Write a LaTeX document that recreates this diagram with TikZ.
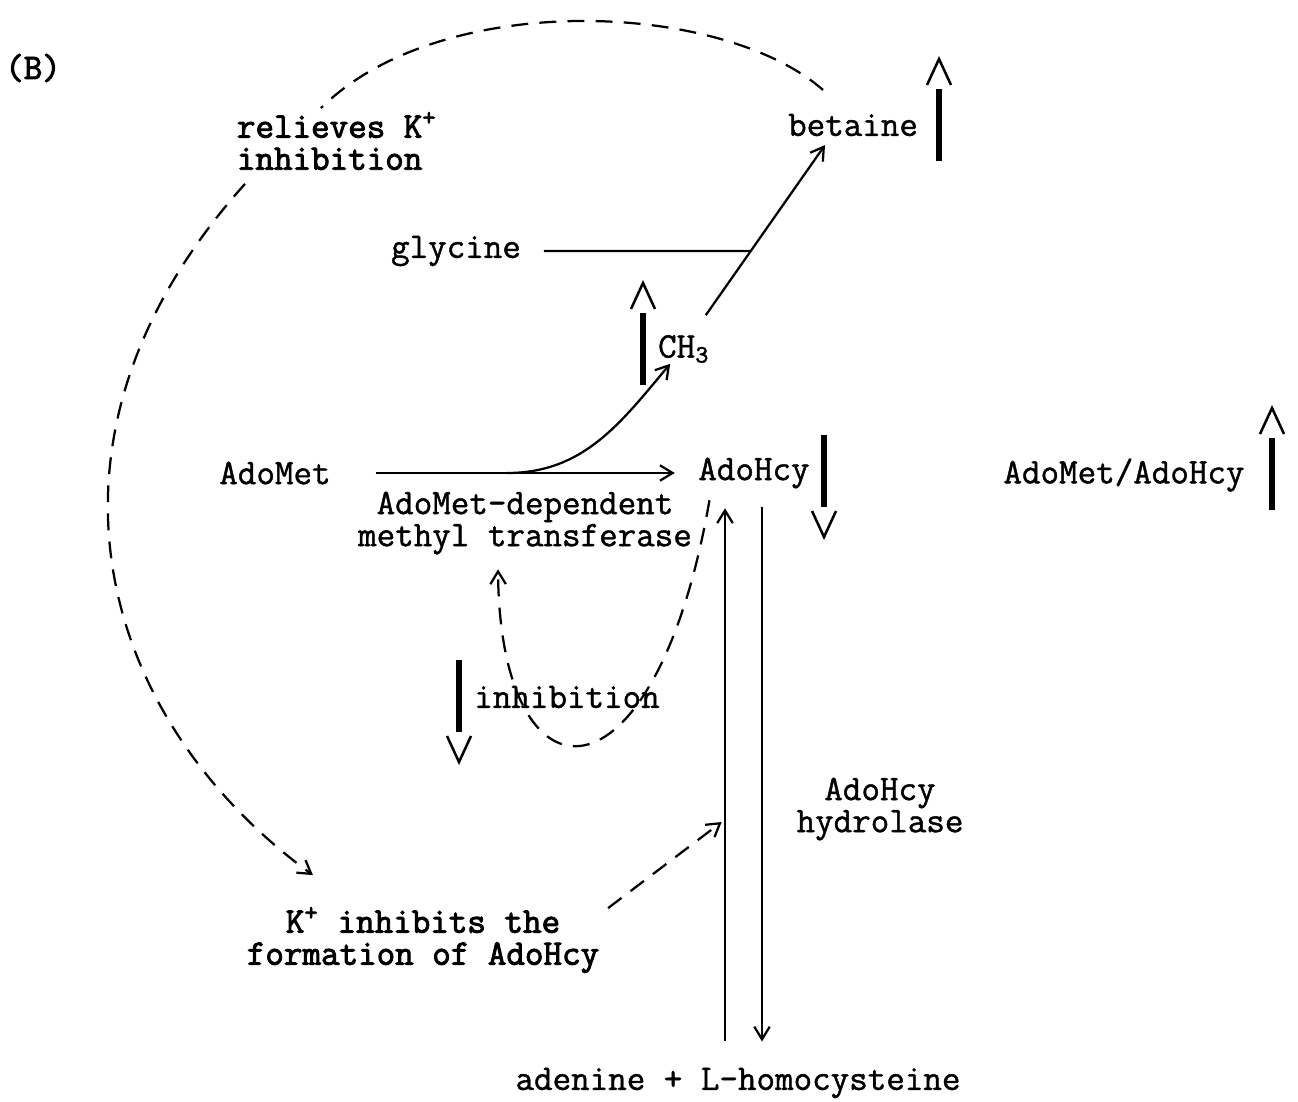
\documentclass[tikz,border=0pt]{standalone}
\usepackage{fontspec}
\usepackage{tikz}
\usetikzlibrary{arrows.meta, positioning, calc, intersections}
\newfontfamily\scanfont{Latin Modern Mono}[FakeBold=1.2]
\newfontfamily\scanheavy{Latin Modern Mono}[FakeBold=2.6]
\newcommand{\figfont}{\scanfont\fontsize{12.8}{11.4}\selectfont}

\begin{document}
\begin{tikzpicture}[x=0.0125cm, y=-0.0125cm, line width=0.8pt, font=\figfont,
  every node/.style={inner sep=1pt},
  heavy/.style={font=\scanheavy\fontsize{12.8}{11.4}\selectfont},
  flow/.style={-{Straight Barb[length=4.5pt,width=5.5pt]}},
  dashline/.style={dash pattern=on 6pt off 4pt},
  hint/.style={dashline, -{Straight Barb[length=4.5pt,width=5.5pt]}},
  chev/.style={line width=0.9pt},
  shaft/.style={line width=2pt},
  rise/.pic={\draw[chev] (-12,26) -- (0,0) -- (12,26); \draw[shaft] (0,30) -- (0,102);},
  fall/.pic={\draw[chev] (-12,-26) -- (0,0) -- (12,-26); \draw[shaft] (0,-30) -- (0,-102);}]
  \useasboundingbox (0,0) rectangle (1298,1102);

  \node[heavy] (panel) at (33,68) {(B)};

  % metabolites
  \node (betaine) at (853,125) {betaine};
  \pic at (939,59) {rise};
  \node (glycine) at (456,251) {glycine};
  \node (ch3) at (684,349) {CH\textsubscript{3}};
  \pic at (643,283) {rise};
  \node (adomet) at (275,473) {AdoMet};
  \node (adohcy) at (754,473) {AdoHcy};
  \pic at (824,537) {fall};
  \node (ratio) at (1124,475) {AdoMet/AdoHcy};
  \pic at (1272,408) {rise};
  \node[align=center] (mtase) at (525,523) {AdoMet-dependent\\methyl transferase};
  \node (inhib) at (567,697) {inhibition};
  \pic at (459,762) {fall};
  \node[align=center] (hydrolase) at (880,809) {AdoHcy\\hydrolase};
  \node (products) at (738,1083) {adenine + L-homocysteine};

  % potassium notes
  \node[heavy, align=left, anchor=west] (relieve) at (233,141) {relieves K\textsuperscript{+}\\inhibition};
  \node[heavy, align=center] (kblock) at (423,940) {K\textsuperscript{+} inhibits the\\formation of AdoHcy};

  % methyl transfer
  \draw[flow, shorten <=14.6pt, shorten >=7pt] (adomet) -- (adohcy);
  \coordinate (split) at (507,473);
  \draw[flow] (split) to[out=0, in=230] ([shift={(16,-3)}]ch3.south west);
  \draw[flow, name path=diag] ([shift={(-8,-16)}]ch3.north east) -- ([shift={(-28,5)}]betaine.south);
  \path[name path=gline] (glycine.east) -- ++(400,0);
  \draw[shorten <=6.8pt, name intersections={of=diag and gline, by=join}] (glycine.east) -- (join);

  % hydrolase
  \path ([shift={(-29,16)}]adohcy.south) coordinate (hydup)
        ([shift={(8,15)}]adohcy.south) coordinate (hyddown);
  \draw[flow, shorten <=8pt] (hydup |- products.north) -- coordinate[pos=0.44] (hydmid) (hydup);
  \draw[flow, shorten >=8pt] (hyddown) -- (hyddown |- products.north);

  % feedback
  \draw[hint] ([shift={(15,8)}]adohcy.south west) .. controls (655,815) and (500,815) .. ([shift={(-27,11)}]mtase.south);
  \draw[hint, shorten >=1.5pt] ([shift={(5,5)}]kblock.north east) -- (hydmid);
  \draw[dashline] ([shift={(-30,-20)}]betaine.north) .. controls (720,0) and (440,-10) .. ([shift={(-16,0)}]relieve.north);
  \draw[hint] ([shift={(12,10)}]relieve.south west) .. controls (15,440) and (100,720) .. ([shift={(70,-28)}]kblock.north west);
\end{tikzpicture}
\end{document}
